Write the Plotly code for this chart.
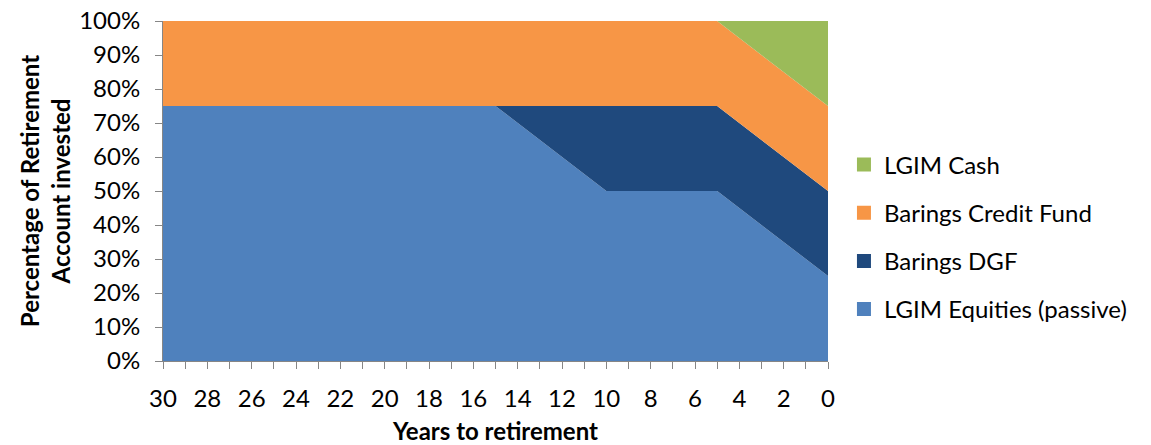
import plotly.graph_objects as go

years = [30, 15, 10, 5, 0]
equities = [0.75, 0.75, 0.50, 0.50, 0.25]
dgf = [0.00, 0.00, 0.25, 0.25, 0.25]
credit = [0.25, 0.25, 0.25, 0.25, 0.25]
cash = [0.00, 0.00, 0.00, 0.00, 0.25]

series = [
    ("LGIM Equities (passive)", equities, "#4F81BD"),
    ("Barings DGF", dgf, "#1F497D"),
    ("Barings Credit Fund", credit, "#F79646"),
    ("LGIM Cash", cash, "#9BBB59"),
]

FONT = "Lato, 'Open Sans', sans-serif"

fig = go.Figure()
for name, vals, col in series:
    fig.add_trace(go.Scatter(
        x=years, y=vals, name=name, mode="lines", stackgroup="one",
        line=dict(width=0, color=col), fillcolor=col, showlegend=False,
    ))
# legend entries (square swatches), listed top to bottom as in reference
for rank, (name, vals, col) in enumerate(reversed(series)):
    fig.add_trace(go.Scatter(
        x=[None], y=[None], name=name, mode="markers",
        marker=dict(symbol="square", size=14, color=col),
        legendgroup=name, legendrank=rank + 1,
    ))

fig.update_layout(
    width=1151, height=445,
    margin=dict(l=163, r=323, t=21, b=84),
    paper_bgcolor="white", plot_bgcolor="white",
    font=dict(family=FONT, size=24, color="black"),
    showlegend=True,
    legend=dict(x=1.024, y=0.365, xanchor="left", yanchor="middle",
                traceorder="grouped", tracegroupgap=14,
                font=dict(size=24), itemwidth=30),
)
fig.update_xaxes(
    range=[30, 0], tickvals=list(range(30, -1, -2)),
    ticks="outside", ticklen=7, tickcolor="#868686",
    showline=True, linecolor="#868686", linewidth=1,
    showgrid=False, zeroline=False, ticklabelstandoff=9, automargin=False,
    minor=dict(dtick=1, tick0=0, ticks="outside", ticklen=7, tickcolor="#868686", showgrid=False),
    title=dict(text="<b>Years to retirement</b>", font=dict(size=24), standoff=15),
)
fig.update_yaxes(
    range=[0, 1], dtick=0.1, tickformat=".0%",
    ticks="outside", ticklen=7, tickcolor="#868686",
    showline=True, linecolor="#868686", linewidth=1,
    showgrid=False, zeroline=False, ticklabelstandoff=10, automargin=False,
    title=dict(text="<b>Percentage of Retirement<br>Account invested</b>", font=dict(size=24), standoff=1),
)

fig.write_html("out.html")
